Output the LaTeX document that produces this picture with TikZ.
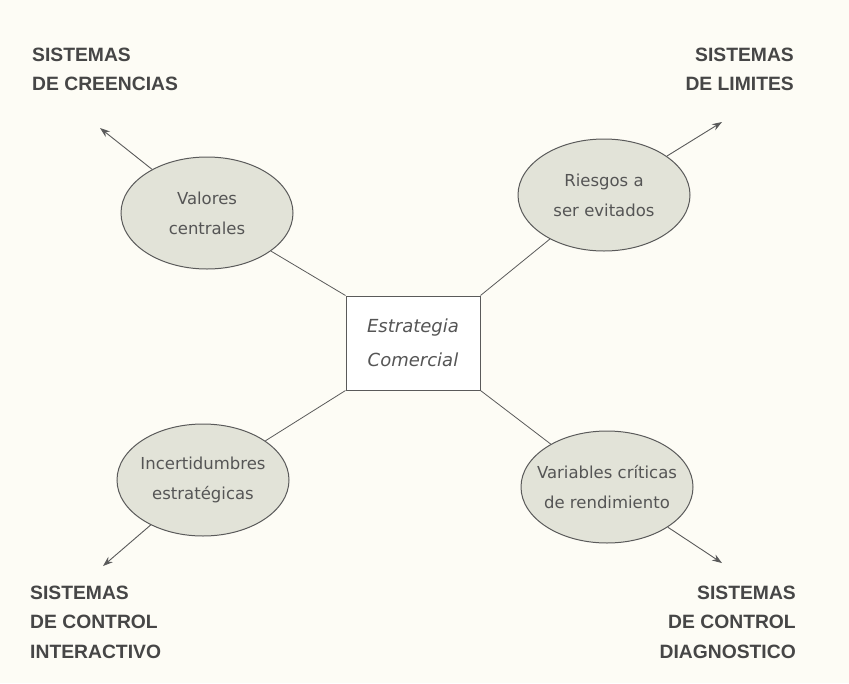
\documentclass[tikz,border=0pt]{standalone}
\usepackage{fontspec}
\setmainfont{DejaVu Sans}
\newfontfamily\headfont{Liberation Sans}
\usetikzlibrary{shapes.geometric,arrows.meta}
\definecolor{bgc}{RGB}{253,252,245}
\definecolor{ellfill}{RGB}{226,227,216}
\definecolor{linec}{RGB}{90,90,90}
\definecolor{headc}{RGB}{70,70,70}
\definecolor{txtc}{RGB}{85,85,85}
\tikzset{
  oval/.style={ellipse, draw=linec, line width=1pt, fill=ellfill, minimum width=172pt, minimum height=112pt, inner xsep=-14pt, inner ysep=0pt, align=center, text=txtc, font=\fontsize{16.5}{30}\selectfont},
  centerbox/.style={rectangle, draw=linec, line width=1pt, fill=white, minimum width=134pt, minimum height=94pt, align=center, text=txtc, font=\fontsize{18}{34}\selectfont\itshape},
  head/.style={text=headc, font=\headfont\bfseries\fontsize{19.3}{29.3}\selectfont, inner sep=0pt},
  conn/.style={draw=linec, line width=0.8pt},
  arr/.style={draw=linec, line width=0.9pt, -{Stealth[length=10pt,width=7pt]}}
}
\begin{document}
\begin{tikzpicture}[x=1pt,y=-1pt]
\fill[bgc] (0,0) rectangle (849,683);
\useasboundingbox (0,0) rectangle (849,683);
\node[centerbox] (box) at (413,343) {Estrategia\\Comercial};
\node[oval] (val) at (207,213) {Valores\\centrales};
\node[oval] (rie) at (604,195) {Riesgos a\\ser evitados};
\node[oval] (inc) at (203,480) {Incertidumbres\\estratégicas};
\node[oval] (var) at (607,487) {Variables críticas\\de rendimiento};
\draw[conn] (box.north west) -- (val);
\draw[conn] (box.north east) -- (rie);
\draw[conn] (box.south west) -- (inc);
\draw[conn] (box.south east) -- (var);
\coordinate (tval) at (100,128);
\coordinate (trie) at (722,122);
\coordinate (tinc) at (103,566);
\coordinate (tvar) at (722,563);
\draw[arr] (val) -- (tval);
\draw[arr] (rie) -- (trie);
\draw[arr] (inc) -- (tinc);
\draw[arr] (var) -- (tvar);
\node[head, anchor=north west, align=left] (h1) at (32,48) {SISTEMAS\\DE CREENCIAS};
\node[head, anchor=north east, align=right] (h2) at (794,48) {SISTEMAS\\DE LIMITES};
\node[head, anchor=north west, align=left] (h3) at (30,586) {SISTEMAS\\DE CONTROL\\INTERACTIVO};
\node[head, anchor=north east, align=right] (h4) at (796,586) {SISTEMAS\\DE CONTROL\\DIAGNOSTICO};
\end{tikzpicture}
\end{document}
